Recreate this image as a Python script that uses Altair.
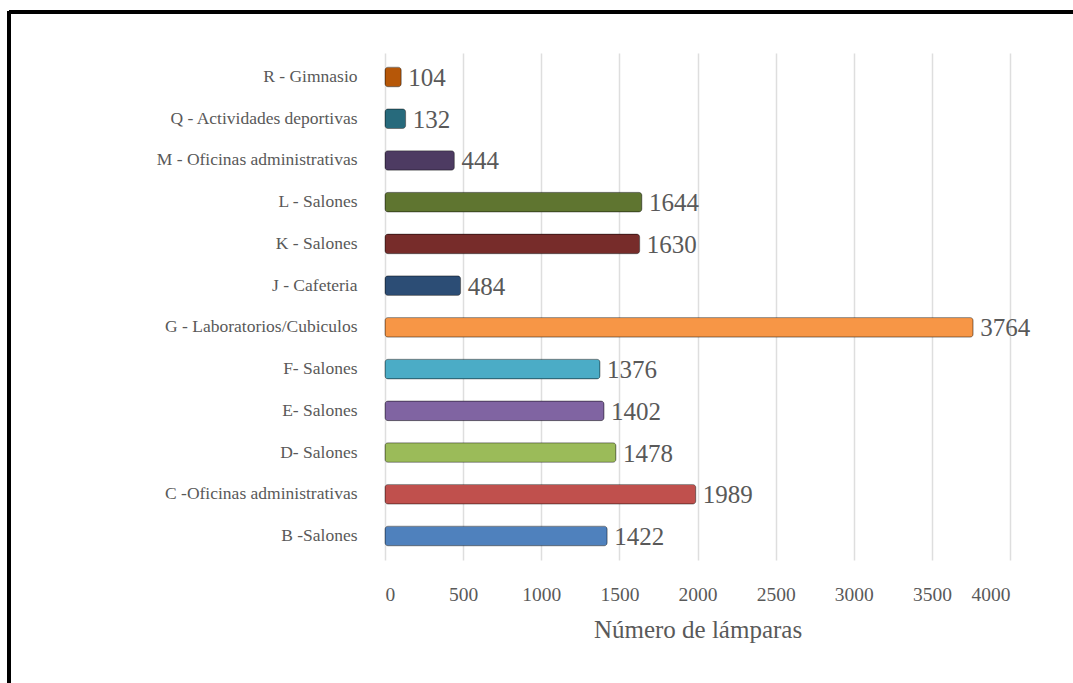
import altair as alt
import pandas as pd

categories = [
    "R - Gimnasio",
    "Q - Actividades deportivas",
    "M - Oficinas administrativas",
    "L - Salones",
    "K - Salones",
    "J - Cafeteria",
    "G - Laboratorios/Cubiculos",
    "F- Salones",
    "E- Salones",
    "D- Salones",
    "C -Oficinas administrativas",
    "B -Salones",
]
values = [104, 132, 444, 1644, 1630, 484, 3764, 1376, 1402, 1478, 1989, 1422]
colors = ["#B65708", "#276A7C", "#4D3B62", "#5F7530", "#772C2A", "#2C4D75",
          "#F79646", "#4BACC6", "#8064A2", "#9BBB59", "#C0504D", "#4F81BD"]
x_ticks = [0, 500, 1000, 1500, 2000, 2500, 3000, 3500, 4000]

df = pd.DataFrame({"cat": categories, "val": values})

FONT = "Liberation Serif"

y_enc = alt.Y("cat:N", sort=categories, title=None,
              scale=alt.Scale(paddingInner=0.53, paddingOuter=0.34),
              axis=alt.Axis(labelFont=FONT, labelFontSize=17.5, labelColor="#595959",
                            labelPadding=28, ticks=False, domain=False, grid=False,
                            labelLimit=400))
x_enc = alt.X("val:Q", title="Número de lámparas",
              scale=alt.Scale(domain=[0, 4000], nice=False),
              axis=alt.Axis(values=x_ticks, format="d", labelFont=FONT, labelFontSize=19.5,
                            labelColor="#595959", titleFont=FONT, titleFontSize=25,
                            titleColor="#595959", titleFontWeight="normal",
                            labelPadding=25, titlePadding=14, ticks=False, domain=False,
                            grid=True, gridColor="#dedede", gridWidth=1.5))

bars = alt.Chart(df).mark_bar(cornerRadius=3, stroke="black", strokeOpacity=0.35,
                              strokeWidth=1).encode(
    x=x_enc,
    y=y_enc,
    color=alt.Color("cat:N", scale=alt.Scale(domain=categories, range=colors), legend=None),
)

text = alt.Chart(df).mark_text(align="left", baseline="middle", dx=7, dy=1, font=FONT,
                               fontSize=25, color="#595959").encode(
    x="val:Q",
    y=alt.Y("cat:N", sort=categories),
    text="val:Q",
)

border_top = alt.Chart(df).mark_rule(color="black", strokeWidth=3, clip=False).encode(
    x=alt.value(-376), x2=alt.value(700), y=alt.value(-41)
)
border_left = alt.Chart(df).mark_rule(color="black", strokeWidth=3, clip=False).encode(
    x=alt.value(-376), y=alt.value(-42), y2=alt.value(640)
)

chart = alt.layer(bars, text, border_top, border_left).properties(
    width=625, height=507,
    autosize=alt.AutoSizeParams(type="none"),
    padding={"left": 385, "top": 53, "right": 63, "bottom": 123},
    background="white",
).configure_view(stroke=None)

chart.save("out.html", embed_options={"renderer": "svg", "actions": False})
